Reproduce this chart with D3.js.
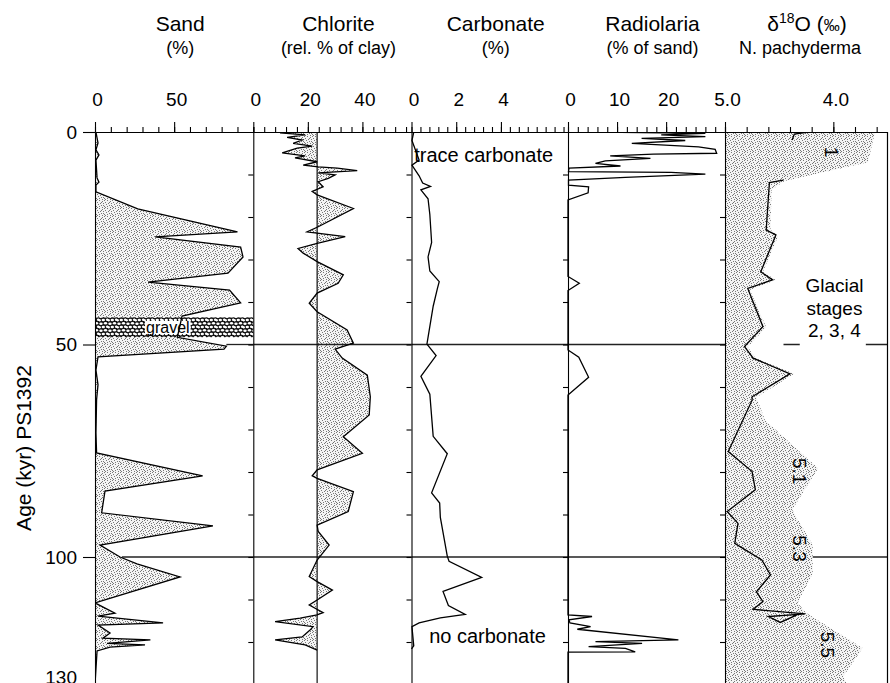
<!DOCTYPE html>
<html lang="en">
<head>
<meta charset="UTF-8">
<title>PS1392</title>
<script src="https://cdn.jsdelivr.net/npm/d3@7/dist/d3.min.js"></script>
<style>
    body { margin: 0; background: #fff; }
    text { font-family: "Liberation Sans", Arial, sans-serif; fill: #000; }
</style>
</head>
<body>
<script>

    // [age kyr, value]
    var sand = [[0,0.6],[2.6,1.9],[4.2,0.6],[5.4,2.5],[6.6,0.6],[10.8,1.3],[11.8,2.5],[12.5,0.6],[14.1,0.6],
        [18.1,27],[23.5,90],[24.7,38],[27.1,92],[29.4,93.5],[33.2,84],[35.3,33.5],[37.2,85],[40.2,92],[43.3,55],
        [48.3,52],[50.4,83],[51.1,81.5],[52.9,1.9],[56,0.6],[59.5,1.9],[63,1],[70.8,0.6],[75.5,1],
        [80.9,68],[84.5,6.3],[89.6,4.2],[92.7,74.5],[97.2,3.2],[100,15.8],[101.6,26.5],[104.7,53.7],[110.8,0],
        [113.2,12.6],[113.9,1.9],[115.5,43],[116,1.9],[117.9,9.5],[119.1,5],[119.5,35],[120.3,7.6],
        [120.7,31.6],[121.2,9.5],[122.1,1.3],[130,0]];
    var gravel = [43.6, 48.3];

    var chlorite = [[0.2,9.8],[0.7,19.0],[1.25,12.4],[1.9,17.9],[2.7,14.6],[3.3,21.6],[3.8,16.1],[4.9,10.6],
        [5.6,19.0],[6.1,15.3],[7.0,23.4],[7.8,18.3],[8.2,23.8],[8.5,30.8],[9.1,38.1],[9.6,23.8],[10.1,30.0],
        [10.9,27.5],[11.7,23.8],[12.9,25.6],[14.0,21.6],[14.8,23.4],[18.0,36.7],[22.3,23.8],[23.5,19.7],
        [24.6,33.7],[26.2,23.4],[27.4,16.4],[28.5,18.3],[30.5,23.4],[33.6,33.0],[35.6,31.1],[37.9,23.4],
        [40.3,20.5],[42.3,23.4],[46.6,34.4],[49.7,36.7],[51.1,30.0],[53.2,32.6],[57.2,41.8],[62.3,42.9],
        [66.6,42.5],[71.7,33.0],[75.6,40.0],[79.5,23.4],[80.9,21.6],[81.5,23.4],[84.6,36.7],[89.3,34.8],
        [92.5,23.4],[94.0,23.8],[97.2,27.8],[100.7,23.4],[104.6,20.5],[105.8,23.4],[107.8,29.0],[110.1,23.4],
        [111.3,20.5],[113.1,25.6],[113.6,23.4],[114.4,17.2],[115.2,8.0],[116.4,21.9],[117.2,20.8],[118.8,17.9],
        [119.5,8.0],[120.7,19.0],[121.9,23.4]];
    var chlBase = 23.4;

    var carbonate = [[0,0.1],[2.0,0.02],[6.6,0.34],[7.8,0.02],[10.3,0.34],[12.0,0.5],[12.8,0.85],[13.6,0.42],
        [15.7,0.74],[19.4,0.82],[26.0,0.9],[29.4,0.74],[32.7,0.82],[35.2,1.24],[36.8,1.16],[41.0,0.97],
        [49.9,0.69],[52.6,1.1],[57.5,0.42],[61.7,0.82],[71.6,0.97],[75.7,1.6],[84.9,0.9],[87.3,1.26],
        [90.7,1.29],[99.8,1.6],[101.0,1.68],[104.8,3.14],[108.1,1.41],[111.4,1.65],[113.5,2.4],[114.3,1.29],
        [115.5,0.34],[116.4,0.02],[120.9,0.1],[121.6,0]];

    var radiolaria = [[0,6.3],[0.3,28],[0.7,19],[1.1,28],[1.5,15],[2.0,23.9],[2.7,13],[3.5,26.6],[4.1,30],
        [5.0,30.3],[5.2,17.4],[5.6,8.6],[6.2,16.8],[6.8,7.6],[7.4,5.6],[8.0,10.7],[8.5,0.2],[9.3,0.1],[9.5,21],
        [9.9,28],[10.7,11.7],[11.3,0.1],[12.5,0.1],[12.9,4.2],[14.3,4.1],[16.0,0],[34.0,0],[35.6,2.3],[37.3,0],
        [51.3,0],[53.0,2.2],[57.7,4.2],[61.9,0],[113.6,0],[114.0,4.9],[114.8,0.2],[115.5,0.4],[116.4,4.6],
        [117.0,1.9],[119.5,22.5],[119.9,5.6],[120.3,15.1],[121.1,4.2],[121.5,11.7],[122.3,13.7],[122.4,0],[130,0]];

    // null = gap in record
    var d18O = [[0,4.23],[0.5,4.36],[1.9,4.38],null,[11.3,4.46],[11.9,4.59],[23.1,4.62],[24.2,4.53],[32.9,4.67],
        [34.8,4.56],[36.8,4.79],[45.8,4.65],[50.5,4.82],[53.2,4.74],[56.9,4.40],[62.3,4.75],[63.1,4.75],
        [75.2,4.97],[79.9,4.75],[84.2,4.72],[89.3,4.98],[92.1,4.88],[96.8,4.91],[100.7,4.66],[104.2,4.58],
        [108.2,4.71],[110.5,4.65],[112.3,4.74],[113.4,4.26],[114.0,4.60],[115.4,4.49],[113.2,4.30]];

    // interglacial / stage shading outline
    var stageShade = [[0,5.0],[0,3.615],[7.1,3.68],[11.5,4.45],[13.6,4.57],[23,4.58],[24.5,4.51],[32.9,4.65],
        [34.8,4.53],[37.2,4.77],[45.9,4.62],[50.6,4.79],[53.2,4.72],[56.9,4.36],[62.4,4.71],[67.8,4.63],
        [79.1,4.14],[88.9,4.38],[97.2,4.19],[103.8,4.19],[110.8,4.33],[113.2,4.25],[121.4,3.73],[128.2,3.91],
        [131,3.85],[131,5.0]];

    // [age, panel, from, to]
    var refSegs = [[50,"sand",83,100],[50,"chl",0,58],[50,"carb",0,7],[50,"rad",0,32],[50,"o18",4.46,4.31],
        [50,"o18",3.70,3.5],
        [100,"sand",17,100],[100,"chl",0,58],[100,"carb",0,7],[100,"rad",0,32],[100,"o18",4.19,3.5]];

    var yTicks = [0, 50, 100, 130];

    // canvas
    var width = 890, height = 683;
    var svg = d3.select("body").append("svg")
        .attr("width", width)
        .attr("height", height);

    var y = d3.scaleLinear().domain([0, 130]).range([132, 684.5]);
    var x = {
        sand: d3.scaleLinear().domain([0, 100]).range([95, 253.3]),
        chl: d3.scaleLinear().domain([0, 58]).range([253.3, 411.5]),
        carb: d3.scaleLinear().domain([0, 7]).range([411.5, 568]),
        rad: d3.scaleLinear().domain([0, 32]).range([568, 725]),
        o18: d3.scaleLinear().domain([5.0, 3.5]).range([725, 887.5])
    };

    // patterns
    var defs = svg.append("defs");
    var stip = defs.append("pattern").attr("id", "stip")
        .attr("patternUnits", "userSpaceOnUse").attr("width", 8).attr("height", 8);
    stip.append("rect").attr("width", 8).attr("height", 8).attr("fill", "#f4f4f4");
    [[0,0],[3,0],[6,1],[1,2],[4,3],[7,3],[2,4],[5,5],[0,6],[3,6],[6,7],[1,7],[5,2],[7,5]].forEach(function (p) {
        stip.append("rect").attr("x", p[0]).attr("y", p[1]).attr("width", 1).attr("height", 1).attr("fill", "#777");
    });
    var grav = defs.append("pattern").attr("id", "grav")
        .attr("patternUnits", "userSpaceOnUse").attr("width", 9).attr("height", 7);
    grav.append("rect").attr("width", 9).attr("height", 7).attr("fill", "#111");
    [[2,1.7],[6.5,1.2],[4.3,5],[8.6,4.8],[0.2,5.2]].forEach(function (p) {
        grav.append("ellipse").attr("cx", p[0]).attr("cy", p[1]).attr("rx", 1.7).attr("ry", 1.2).attr("fill", "#fff");
    });

    defs.append("clipPath").attr("id", "plot").append("rect")
        .attr("x", 95).attr("y", 132).attr("width", 792.5).attr("height", 553);

    var g = svg.append("g").attr("clip-path", "url(#plot)");

    // d18O stage shading
    g.append("path")
        .attr("d", d3.line().x(function (d) { return x.o18(d[1]); }).y(function (d) { return y(d[0]); })(stageShade) + "Z")
        .attr("fill", "url(#stip)");

    // sand fill
    g.append("path")
        .attr("d", d3.area().y(function (d) { return y(d[0]); })
            .x0(x.sand(0)).x1(function (d) { return x.sand(d[1]); })(sand))
        .attr("fill", "url(#stip)");

    // chlorite fill against baseline
    g.append("path")
        .attr("d", d3.area().y(function (d) { return y(d[0]); })
            .x0(x.chl(chlBase)).x1(function (d) { return x.chl(d[1]); })(chlorite))
        .attr("fill", "url(#stip)");

    // gravel band
    g.append("rect")
        .attr("x", x.sand(0)).attr("width", x.sand(100) - x.sand(0))
        .attr("y", y(gravel[0])).attr("height", y(gravel[1]) - y(gravel[0]))
        .attr("fill", "url(#grav)");
    var gt = g.append("text").attr("x", x.sand(46)).attr("y", y(46))
        .attr("text-anchor", "middle").attr("dominant-baseline", "central")
        .style("font-size", "16px").text("gravel");
    var bb = gt.node().getBBox();
    g.insert("rect", "text").attr("x", bb.x - 1).attr("y", bb.y + 2)
        .attr("width", bb.width + 2).attr("height", bb.height - 4).attr("fill", "#fff");

    // 50 / 100 kyr lines
    g.selectAll(".ref").data(refSegs).enter().append("line")
        .attr("x1", function (d) { return x[d[1]](d[2]); })
        .attr("x2", function (d) { return x[d[1]](d[3]); })
        .attr("y1", function (d) { return y(d[0]); })
        .attr("y2", function (d) { return y(d[0]); })
        .attr("stroke", "#222").attr("stroke-width", 1.3);

    // chlorite baseline
    g.append("line")
        .attr("x1", x.chl(chlBase)).attr("x2", x.chl(chlBase))
        .attr("y1", y(0)).attr("y2", y(130))
        .attr("stroke", "#111").attr("stroke-width", 1.2);

    // curves
    function curve(data, sc) {
        g.append("path")
            .attr("d", d3.line().defined(function (d) { return d !== null; })
                .x(function (d) { return sc(d[1]); }).y(function (d) { return y(d[0]); })(data))
            .attr("fill", "none").attr("stroke", "#000").attr("stroke-width", 1.3)
            .attr("stroke-linejoin", "miter");
    }
    curve(sand, x.sand);
    curve(chlorite, x.chl);
    curve(carbonate, x.carb);
    curve(radiolaria, x.rad);
    curve(d18O, x.o18);

    // top axes
    var panels = [
        {k: "sand", minor: d3.range(0, 100.01, 10), major: [0, 50], fmt: d3.format("d")},
        {k: "chl", minor: d3.range(0, 58, 4), major: [0, 20, 40], fmt: d3.format("d")},
        {k: "carb", minor: d3.range(0, 7.01, 0.4), major: [0, 2, 4], fmt: d3.format("d")},
        {k: "rad", minor: d3.range(0, 32.01, 2), major: [0, 10, 20], fmt: d3.format("d")},
        {k: "o18", minor: d3.range(3.6, 5.01, 0.2), major: [5.0, 4.0], fmt: d3.format(".1f")}
    ];
    panels.forEach(function (p) {
        svg.append("g").attr("transform", "translate(0,132)")
            .call(d3.axisTop(x[p.k]).tickValues(p.minor).tickSize(5).tickSizeOuter(0).tickFormat(""));
        svg.append("g").attr("transform", "translate(0,132)")
            .call(d3.axisTop(x[p.k]).tickValues(p.major).tickSize(10).tickSizeOuter(0)
                .tickPadding(16).tickFormat(p.fmt))
            .selectAll("text").attr("dx", 2);
    });

    // left age axis
    var ya = svg.append("g").attr("transform", "translate(95,0)")
        .call(d3.axisLeft(y).tickValues(yTicks).tickSize(12).tickSizeOuter(0).tickPadding(6));
    ya.selectAll(".tick text").filter(function (d) { return d === 130; }).attr("dy", "-0.05em");

    // panel borders with 10 kyr ticks
    [x.sand(100), x.chl(58), x.carb(7), x.rad(32)].forEach(function (bx) {
        svg.append("g").attr("transform", "translate(" + bx + ",0)")
            .call(d3.axisLeft(y).tickValues(d3.range(10, 130, 10)).tickSize(5).tickSizeOuter(0).tickFormat(""));
    });
    svg.append("line").attr("x1", x.o18(3.5)).attr("x2", x.o18(3.5))
        .attr("y1", y(0)).attr("y2", y(130)).attr("stroke", "#000").attr("stroke-width", 1.2);

    svg.selectAll(".tick text").style("font-size", "19px").style("font-family", "'Liberation Sans', Arial, sans-serif");
    svg.selectAll(".domain, .tick line").attr("stroke", "#000").attr("stroke-width", 1.1);

    // titles
    var titles = [
        {k: "sand", a: "Sand", b: "(%)"},
        {k: "chl", a: "Chlorite", b: "(rel. % of clay)"},
        {k: "carb", a: "Carbonate", b: "(%)"},
        {k: "rad", a: "Radiolaria", b: "(% of sand)"}
    ];
    titles.forEach(function (t) {
        var r = x[t.k].range(), cx = (r[0] + r[1]) / 2 + 6;
        svg.append("text").attr("x", cx).attr("y", 31).attr("text-anchor", "middle")
            .style("font-size", "21px").text(t.a);
        svg.append("text").attr("x", cx).attr("y", 54).attr("text-anchor", "middle")
            .style("font-size", "18px").text(t.b);
    });
    var o1 = svg.append("text").attr("x", 807).attr("y", 31).attr("text-anchor", "middle").style("font-size", "21px");
    o1.append("tspan").text("δ");
    o1.append("tspan").attr("dy", -8).style("font-size", "14px").text("18");
    o1.append("tspan").attr("dy", 8).text("O  (");
    o1.append("tspan").style("font-size", "16px").text("‰");
    o1.append("tspan").text(")");
    svg.append("text").attr("x", 800).attr("y", 54).attr("text-anchor", "middle")
        .style("font-size", "18px").text("N. pachyderma");

    // y label
    svg.append("text").attr("transform", "translate(31,448) rotate(-90)")
        .attr("text-anchor", "middle").style("font-size", "21px").text("Age (kyr) PS1392");

    // annotations
    svg.append("text").attr("x", x.carb(0.12)).attr("y", y(5.4)).attr("dominant-baseline", "central")
        .style("font-size", "20px").text("trace carbonate");
    svg.append("text").attr("x", x.carb(3.4)).attr("y", y(118.6)).attr("text-anchor", "middle")
        .attr("dominant-baseline", "central").style("font-size", "20px").text("no carbonate");

    var glac = svg.append("text").attr("text-anchor", "middle").style("font-size", "19px");
    ["Glacial", "stages", "2, 3, 4"].forEach(function (s, i) {
        glac.append("tspan").attr("x", x.o18(3.99)).attr("y", 292 + i * 22.5).text(s);
    });

    var stages = [["1", 4.02, 4.7], ["5.1", 4.31, 79.8], ["5.3", 4.31, 98.0], ["5.5", 4.05, 120.7]];
    svg.selectAll(".stg").data(stages).enter().append("text")
        .attr("transform", function (d) { return "translate(" + x.o18(d[1]) + "," + y(d[2]) + ") rotate(90)"; })
        .attr("text-anchor", "middle").attr("dominant-baseline", "central")
        .style("font-size", "19px")
        .text(function (d) { return d[0]; });

</script>
</body>
</html>
